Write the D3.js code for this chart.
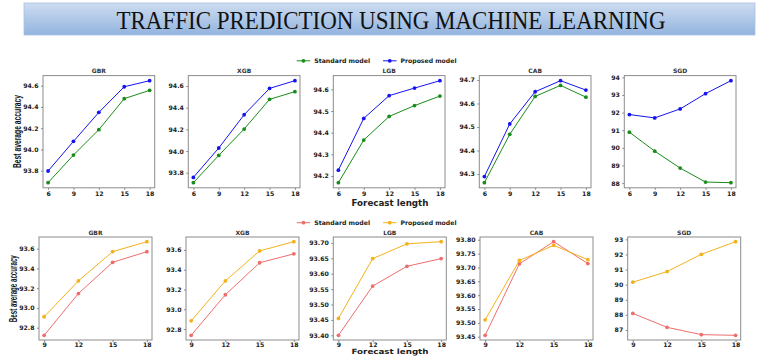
<!DOCTYPE html>
<html>
<head>
<meta charset="utf-8">
<script src="https://cdn.jsdelivr.net/npm/d3@7"></script>
<style>
  html, body { margin: 0; padding: 0; background: #fff; }
  svg { display: block; }
</style>
</head>
<body>
<svg id="chart" width="768" height="356"></svg>
<script>
// ---------------- DATA ----------------
const pageTitle = "TRAFFIC PREDICTION USING MACHINE LEARNING";
const models = ["GBR", "XGB", "LGB", "CAB", "SGD"];
const forecastTop = [6, 9, 12, 15, 18];
const forecastBottom = [9, 12, 15, 18];
const seriesNames = ["Standard model", "Proposed model"];

// top row (green = standard, blue = proposed)
const topStandardGBR = [93.687, 93.947, 94.186, 94.478, 94.556];
const topProposedGBR = [93.797, 94.076, 94.349, 94.590, 94.647];
const topStandardXGB = [93.708, 93.960, 94.203, 94.477, 94.548];
const topProposedXGB = [93.757, 94.028, 94.335, 94.578, 94.649];
const topStandardLGB = [94.169, 94.366, 94.475, 94.525, 94.569];
const topProposedLGB = [94.227, 94.466, 94.571, 94.606, 94.640];
const topStandardCAB = [94.263, 94.469, 94.630, 94.677, 94.627];
const topProposedCAB = [94.289, 94.513, 94.650, 94.697, 94.657];
const topStandardSGD = [90.887, 89.810, 88.850, 88.057, 88.020];
const topProposedSGD = [91.887, 91.698, 92.208, 93.075, 93.810];

// bottom row (red = standard, orange = proposed)
const bottomStandardGBR = [92.723, 93.146, 93.462, 93.570];
const bottomProposedGBR = [92.911, 93.274, 93.570, 93.671];
const bottomStandardXGB = [92.737, 93.147, 93.470, 93.560];
const bottomProposedXGB = [92.883, 93.287, 93.590, 93.683];
const bottomStandardLGB = [93.400, 93.560, 93.624, 93.649];
const bottomProposedLGB = [93.455, 93.649, 93.697, 93.704];
const bottomStandardCAB = [93.455, 93.713, 93.793, 93.714];
const bottomProposedCAB = [93.511, 93.725, 93.780, 93.728];
const bottomStandardSGD = [88.099, 87.176, 86.692, 86.648];
const bottomProposedSGD = [90.165, 90.868, 92.011, 92.846];

// y tick labels
const topTicksGBR = [93.8, 94.0, 94.2, 94.4, 94.6];
const topTicksXGB = [93.8, 94.0, 94.2, 94.4, 94.6];
const topTicksLGB = [94.2, 94.3, 94.4, 94.5, 94.6];
const topTicksCAB = [94.3, 94.4, 94.5, 94.6, 94.7];
const topTicksSGD = [88, 89, 90, 91, 92, 93, 94];
const bottomTicksGBR = [92.8, 93.0, 93.2, 93.4, 93.6];
const bottomTicksXGB = [92.8, 93.0, 93.2, 93.4, 93.6];
const bottomTicksLGB = [93.40, 93.45, 93.50, 93.55, 93.60, 93.65, 93.70];
const bottomTicksCAB = [93.45, 93.50, 93.55, 93.60, 93.65, 93.70, 93.75, 93.80];
const bottomTicksSGD = [87, 88, 89, 90, 91, 92, 93];

const yLabel = "Best average accuracy";
const xLabel = "Forecast length";

// ---------------- LAYOUT / STYLE ----------------
const svg = d3.select("#chart");
const tickFont = "'DejaVu Sans', sans-serif";

const rows = [
  {
    xs: forecastTop,
    std: [topStandardGBR, topStandardXGB, topStandardLGB, topStandardCAB, topStandardSGD],
    prop: [topProposedGBR, topProposedXGB, topProposedLGB, topProposedCAB, topProposedSGD],
    ticks: [topTicksGBR, topTicksXGB, topTicksLGB, topTicksCAB, topTicksSGD],
    fmts: [".1f", ".1f", ".1f", ".1f", "d"],
    lefts: [43, 188.3, 333.3, 479.3, 624.3],
    width: 111.7, top: 75.6, bottom: 187.8,
    colors: ["#1a8c1a", "#1414f0"],
    legendY: 60.8,
    yLabelX: 17, yLabelY: 131.5, yLabelLen: 73,
    xLabelY: 206, xLabelSize: 8, xTickPad: 1.5
  },
  {
    xs: forecastBottom,
    std: [bottomStandardGBR, bottomStandardXGB, bottomStandardLGB, bottomStandardCAB, bottomStandardSGD],
    prop: [bottomProposedGBR, bottomProposedXGB, bottomProposedLGB, bottomProposedCAB, bottomProposedSGD],
    ticks: [bottomTicksGBR, bottomTicksXGB, bottomTicksLGB, bottomTicksCAB, bottomTicksSGD],
    fmts: [".1f", ".1f", ".2f", ".2f", "d"],
    lefts: [39, 186, 333.3, 480, 627.7],
    width: 113, top: 237, bottom: 340,
    colors: ["#ee6e6e", "#f3b21c"],
    legendY: 222.7,
    yLabelX: 13.5, yLabelY: 288.7, yLabelLen: 67,
    xLabelY: 354.4, xLabelSize: 7.3, xTickPad: 0.8
  }
];

// ---------------- BANNER ----------------
const defs = svg.append("defs");
const grad = defs.append("linearGradient").attr("id", "bannerGrad")
  .attr("x1", 0).attr("y1", 0).attr("x2", 0).attr("y2", 1);
grad.append("stop").attr("offset", "0%").attr("stop-color", "#cddcf1");
grad.append("stop").attr("offset", "100%").attr("stop-color", "#93b4de");

svg.append("rect")
  .attr("x", 24).attr("y", 3).attr("width", 731).attr("height", 32)
  .attr("fill", "url(#bannerGrad)")
  .attr("stroke", "#a9c1e3").attr("stroke-width", 0.8);

svg.append("text")
  .attr("x", 391).attr("y", 28.5)
  .attr("text-anchor", "middle")
  .attr("font-family", "'Liberation Serif', 'Times New Roman', serif")
  .attr("font-size", 26)
  .attr("fill", "#111")
  .attr("textLength", 549)
  .attr("lengthAdjust", "spacingAndGlyphs")
  .text(pageTitle);

// ---------------- PANELS ----------------
function padDomain(vals) {
  const lo = d3.min(vals), hi = d3.max(vals);
  const p = (hi - lo) * 0.05;
  return [lo - p, hi + p];
}

rows.forEach(row => {
  models.forEach((m, i) => {
    const x0 = row.lefts[i], x1 = x0 + row.width;
    const x = d3.scaleLinear().domain(padDomain(row.xs)).range([x0, x1]);
    const y = d3.scaleLinear().domain(padDomain(row.std[i].concat(row.prop[i])))
      .range([row.bottom, row.top]);
    const g = svg.append("g");

    // y axis
    const ya = g.append("g").attr("transform", `translate(${x0},0)`)
      .call(d3.axisLeft(y).tickValues(row.ticks[i]).tickFormat(d3.format(row.fmts[i]))
        .tickSize(2).tickPadding(2.5));
    // x axis
    const xa = g.append("g").attr("transform", `translate(0,${row.bottom})`)
      .call(d3.axisBottom(x).tickValues(row.xs).tickFormat(d3.format("d"))
        .tickSize(2).tickPadding(row.xTickPad));
    [ya, xa].forEach(a => {
      a.select(".domain").remove();
      a.selectAll("line").attr("stroke", "#555").attr("stroke-width", 0.7);
      a.selectAll("text").attr("font-family", tickFont).attr("font-weight", "bold")
        .attr("font-size", 6.2).attr("fill", "#222");
    });

    // frame
    g.append("rect")
      .attr("x", x0).attr("y", row.top)
      .attr("width", row.width).attr("height", row.bottom - row.top)
      .attr("fill", "none").attr("stroke", "#8c8c8c").attr("stroke-width", 1);

    // title
    g.append("text")
      .attr("x", (x0 + x1) / 2).attr("y", row.top - 2.5)
      .attr("text-anchor", "middle")
      .attr("font-family", tickFont).attr("font-weight", "bold")
      .attr("font-size", 6).attr("fill", "#333")
      .text(m);

    // series
    [row.std[i], row.prop[i]].forEach((vals, s) => {
      const pts = vals.map((v, k) => [row.xs[k], v]);
      g.append("path")
        .datum(pts)
        .attr("fill", "none")
        .attr("stroke", row.colors[s])
        .attr("stroke-width", 1)
        .attr("d", d3.line().x(d => x(d[0])).y(d => y(d[1])));
      g.selectAll(null).data(pts).enter().append("circle")
        .attr("cx", d => x(d[0])).attr("cy", d => y(d[1]))
        .attr("r", 1.9).attr("fill", row.colors[s]);
    });
  });

  // legend
  const legendStarts = [296.7, 383];
  seriesNames.forEach((name, s) => {
    const lx = legendStarts[s];
    svg.append("line")
      .attr("x1", lx).attr("x2", lx + 13.5)
      .attr("y1", row.legendY).attr("y2", row.legendY)
      .attr("stroke", row.colors[s]).attr("stroke-width", 1);
    svg.append("circle")
      .attr("cx", lx + 6.75).attr("cy", row.legendY).attr("r", 1.9)
      .attr("fill", row.colors[s]);
    svg.append("text")
      .attr("x", lx + 17.5).attr("y", row.legendY + 2.1)
      .attr("font-family", tickFont).attr("font-weight", "bold")
      .attr("font-size", 6.2).attr("fill", "#222")
      .attr("textLength", 56).attr("lengthAdjust", "spacingAndGlyphs")
      .text(name);
  });

  // y label
  svg.append("text")
    .attr("transform", `translate(${row.yLabelX + 3.5},${row.yLabelY}) rotate(-90)`)
    .attr("text-anchor", "middle")
    .attr("font-family", "'Liberation Sans Narrow', 'Liberation Sans', Arial, sans-serif")
    .attr("font-weight", "bold")
    .attr("font-size", 10).attr("fill", "#111")
    .attr("textLength", row.yLabelLen).attr("lengthAdjust", "spacingAndGlyphs")
    .text(yLabel);

  // x label
  svg.append("text")
    .attr("x", 390).attr("y", row.xLabelY)
    .attr("text-anchor", "middle")
    .attr("font-family", tickFont).attr("font-weight", "bold")
    .attr("font-size", row.xLabelSize).attr("fill", "#222")
    .attr("textLength", 77).attr("lengthAdjust", "spacingAndGlyphs")
    .text(xLabel);
});
</script>
</body>
</html>
